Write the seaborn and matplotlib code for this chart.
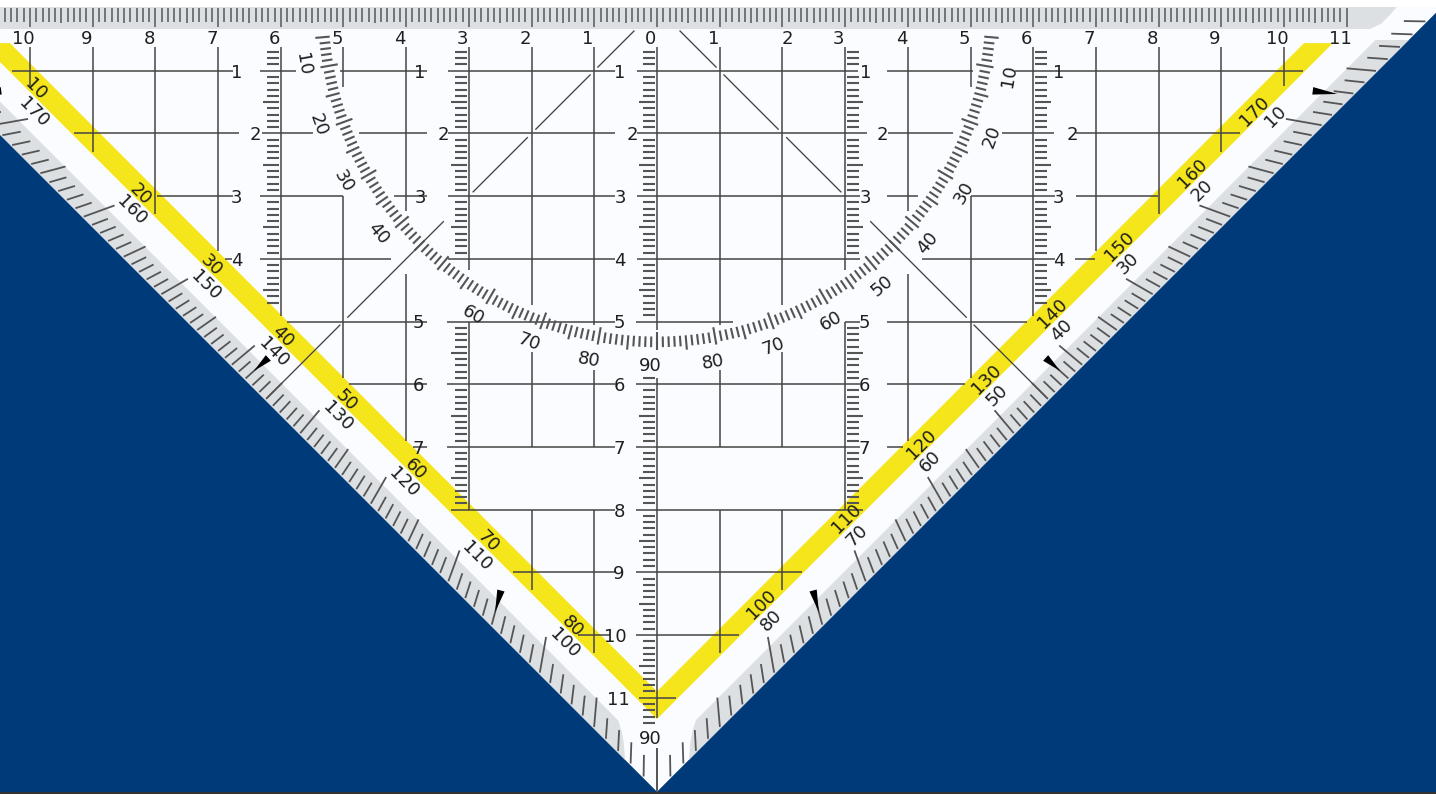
import numpy as np
import pandas as pd
import matplotlib
matplotlib.use("Agg")
import matplotlib.pyplot as plt
import seaborn as sns

sns.set_theme(style="white")
plt.rcParams["font.family"] = "DejaVu Sans"

# everything is in cm on the set square, origin at the middle of the long edge
top_labels = [10, 9, 8, 7, 6, 5, 4, 3, 2, 1, 0, 1, 2, 3, 4, 5, 6, 7, 8, 9, 10, 11]
top_label_cm = list(range(-10, 12))

row_numbers = [1, 2, 3, 4, 5, 6, 7, 8, 9, 10, 11]
row_label_cm = [
    [-6.70, -3.78, -0.59, 3.33, 6.41],
    [-6.41, -3.41, -0.40, 3.60, 6.62],
    [-6.70, -3.78, -0.59, 3.33, 6.41],
    [-6.70, -0.59, 6.41],
    [-3.80, -0.60, 3.31],
    [-3.80, -0.60, 3.31],
    [-3.80, -0.60, 3.31],
    [-0.60],
    [-0.61],
    [-0.67],
    [-0.62],
]

# pieces of each horizontal line (x from, x to)
row_spans = [
    [(-10.29, -6.76), (-6.33, -5.76), (-5.06, -3.67), (-3.33, -0.67), (-0.32, 3.21), (3.67, 5.04), (5.71, 10.30)],
    [(-9.30, -6.67), (-6.30, -5.49), (-4.75, -3.67), (-3.33, -0.67), (-0.32, 3.35), (3.68, 4.72), (5.50, 6.33), (6.68, 9.30)],
    [(-7.97, -6.76), (-6.33, -5.01), (-4.19, -3.67), (-3.33, -0.67), (-0.32, 3.24), (3.67, 4.16), (5.01, 6.35), (6.68, 7.99)],
    [(-6.89, -6.78), (-6.33, -4.24), (-3.33, -0.67), (-0.32, 3.24), (4.23, 6.35), (6.67, 6.99)],
    [(-5.90, -3.67), (-3.35, -0.67), (-0.33, 1.21), (3.00, 3.24), (3.67, 5.90)],
    [(-4.91, -3.67), (-3.35, -0.67), (-0.33, 3.24), (3.67, 4.91)],
    [(-3.89, -3.67), (-3.35, -0.67), (-0.33, 3.24), (3.67, 3.92)],
    [(-3.29, -0.67), (-0.33, 3.29)],
    [(-2.30, -0.67), (-0.33, 2.31)],
    [(-1.26, -0.75), (-0.33, 1.31)],
    [(-0.29, 0.30)],
]

# pieces of each vertical line (y from, y to), the same left and right of 0
column_numbers = [0, 1, 2, 3, 4, 5, 6, 7, 8, 9, 10]
column_spans = [
    [(0.62, 5.14), (5.90, 11.32), (11.80, 12.50)],
    [(0.62, 5.06), (5.77, 7.00), (8.00, 10.29)],
    [(0.62, 4.74), (5.49, 7.00), (8.00, 9.28)],
    [(0.62, 4.18), (5.00, 8.00)],
    [(0.62, 3.24), (4.24, 6.90)],
    [(0.62, 1.26), (3.00, 5.90)],
    [(0.62, 4.92)],
    [(0.62, 3.88)],
    [(0.62, 3.29)],
    [(0.62, 2.30)],
    [(0.62, 1.25)],
]

diagonal_spans = [(0.36, 0.95), (1.06, 1.94), (2.06, 2.94), (3.40, 4.94), (5.05, 6.22)]

# mm ruler columns: column cm, first and last mm of each run
ruler_columns = [-6, -3, 0, 3, 6]
ruler_runs = [
    [(7, 47)],
    [(7, 39), (51, 79)],
    [(7, 50), (59, 114)],
    [(7, 39), (51, 79)],
    [(7, 47)],
]

arc_labels_right = [10, 20, 30, 40, 50, 60, 70, 80]
arc_labels_left = [10, 20, 30, 40, 60, 70, 80]
edge_labels_right = [10, 20, 30, 40, 50, 60, 70, 80]
edge_labels_left = [170, 160, 150, 140, 130, 120, 110, 100]
band_labels_left = [10, 20, 30, 40, 50, 60, 70, 80]
band_labels_right = [170, 160, 150, 140, 130, 120, 110, 100]
pointer_angles = [7.2, 42, 75]

# small nudges in degrees so the numbers sit where the printed ones do
edge_nudge_right = [-0.15, -1.6, -1.6, -1.4, -1.3, -1.0, -0.7, -0.5]
edge_nudge_left = [-0.6, 1.0, 1.5, 1.9, 2.0, 2.0, 1.9, 1.8]
band_nudge_left = [-2.65, -0.3, -0.1, 1.2, 1.7, 2.4, 2.5, 2.3]
band_nudge_right = [-0.3, -2.9, -2.8, -2.4, -1.6, -1.2, -0.3, 0.2]

NAVY = "#003A78"
PLASTIC = "#FAFCFF"
GREY = "#DCE0E3"
YELLOW = "#F5E61C"
INK = "#1f1f1f"
LINE = "#454545"
TICK = "#555555"

CM = 62.7
TIP = 12.5  # |x| + y along the outer edge
FONT = 13


def draw_segments(ax, segs, color, lw):
    rows = []
    for i, (x0, y0, x1, y1) in enumerate(segs):
        rows.append((i, x0, y0))
        rows.append((i, x1, y1))
    df = pd.DataFrame(rows, columns=["seg", "x", "y"])
    sns.lineplot(data=df, x="x", y="y", units="seg", estimator=None, sort=False,
                 color=color, linewidth=lw, solid_capstyle="butt", legend=False, ax=ax)


def on_edge(angle, d, side):
    # point on the ray at this angle where |x| + y = d
    a = np.radians(angle)
    r = d / (np.cos(a) + np.sin(a))
    return side * r * np.cos(a), r * np.sin(a)


def on_arc(angle, r, side):
    a = np.radians(angle)
    return side * r * np.cos(a), r * np.sin(a)


fig = plt.figure(figsize=(14.36, 7.94), dpi=100, facecolor="white")
ax = fig.add_axes([0, 0, 1, 1])
ax.set_facecolor(NAVY)

# body of the set square
y_top = -0.016
ax.fill([-(TIP - y_top), TIP - y_top, 0], [y_top, y_top, TIP], color=PLASTIC, lw=0, zorder=1)
ax.axhspan(-0.2, y_top, color="white", lw=0, zorder=1)
ax.axhspan(12.5, 12.6, color="#333333", lw=0, zorder=1.2)

# grey strip along the long edge
ax.fill([-11, 11.80, 11.68, 11.55, 11.37, -11], [y_top, y_top, 0.12, 0.25, 0.335, 0.335],
        color=GREY, lw=0, zorder=1.1)

# grey strips along the short edges, yellow band inside them
for side in [-1, 1]:
    ax.fill([side * v for v in [11.46, 11.99, 0.51, 0.53, 0.56, 0.62]],
            [0.51, 0.51, 11.99, 11.72, 11.55, 11.36],
            color=GREY, lw=0, zorder=1.1)
    ax.fill([side * v for v in [10.32, 10.78, 0, 0]], [0.56, 0.56, 11.34, 10.90],
            color=YELLOW, lw=0, zorder=1.3)

# grid
grid = []
for row, spans in zip(row_numbers, row_spans):
    for x0, x1 in spans:
        grid.append((x0, row, x1, row))
for col, spans in zip(column_numbers, column_spans):
    for y0, y1 in spans:
        grid.append((col, y0, col, y1))
        if col != 0:
            grid.append((-col, y0, -col, y1))
draw_segments(ax, grid, LINE, 1.1)

diagonals = []
for x0, x1 in diagonal_spans:
    diagonals.append((x0, x0, x1, x1))
    diagonals.append((-x0, x0, -x1, x1))
draw_segments(ax, diagonals, LINE, 0.95)

# mm along the long edge
top_ticks = []
for mm in range(-105, 111):
    if mm % 10 == 0:
        end = 0.30
    elif mm % 5 == 0:
        end = 0.245
    else:
        end = 0.22
    top_ticks.append((mm / 10, 0.0, mm / 10, end))
draw_segments(ax, top_ticks, "#606366", 1.2)

# mm rulers hanging from the long edge
ruler_ticks = []
for col, runs in zip(ruler_columns, ruler_runs):
    side = 1 if col > 0 else -1
    for first, last in runs:
        for mm in range(first, last + 1):
            if mm % 10 == 0:
                continue
            far = 0.29 if mm % 5 == 0 else 0.22
            ruler_ticks.append((col + side * 0.035, mm / 10, col + side * far, mm / 10))
draw_segments(ax, ruler_ticks, TICK, 1.5)

# protractor arc
arc_ticks = []
for deg in range(5, 91):
    for side in [-1, 1]:
        if deg == 90 and side == -1:
            continue
        if deg % 10 == 0:
            r0, r1 = 5.17, 5.45
        elif deg % 5 == 0:
            r0, r1 = 5.24, 5.47
        else:
            r0, r1 = 5.24, 5.41
        x0, y0 = on_arc(deg, r0, side)
        x1, y1 = on_arc(deg, r1, side)
        arc_ticks.append((x0, y0, x1, y1))
draw_segments(ax, arc_ticks, TICK, 1.5)

# angle scale on the short edges
edge_ticks = []
for deg in range(1, 91):
    for side in [-1, 1]:
        if deg == 90 and side == -1:
            continue
        if deg % 10 == 0:
            d0 = 11.80
        elif deg % 5 == 0:
            d0 = 11.96
        else:
            d0 = 12.12
        x0, y0 = on_edge(deg, d0, side)
        x1, y1 = on_edge(deg, 12.47, side)
        edge_ticks.append((x0, y0, x1, y1))
draw_segments(ax, edge_ticks, TICK, 1.3)

# black pointers
for deg in pointer_angles:
    for side in [-1, 1]:
        tx, ty = on_edge(deg, 12.22, side)
        bx, by = on_edge(deg, 11.78, side)
        a = np.radians(deg)
        nx, ny = -np.sin(a) * side * 0.06, np.cos(a) * 0.06
        ax.fill([tx, bx + nx, bx - nx], [ty, by + ny, by - ny], color="black", lw=0, zorder=2.5)


def label(x, y, s, rot=0):
    ax.text(x, y, str(s), fontsize=FONT, color=INK, rotation=rot, rotation_mode="anchor",
            ha="center", va="center_baseline", zorder=3)


# cm numbers
for s, x in zip(top_labels, top_label_cm):
    nudge = 0.08 if x == 2 else -0.10
    label(x + nudge, 0.46, s)
for row, xs in zip(row_numbers, row_label_cm):
    for x in xs:
        label(x, row, row)
label(-0.10, 11.63, 90)
label(-0.10, 5.68, 90)

# numbers along the arc
for deg in arc_labels_right:
    x, y = on_arc(deg + 1, 5.68, 1)
    label(x, y, deg, 90 - deg)
for deg in arc_labels_left:
    x, y = on_arc(deg - 1, 5.68, -1)
    label(x, y, deg, deg - 90)

# numbers along the edge scale and in the yellow band
for deg, nudge in zip(edge_labels_right, edge_nudge_right):
    x, y = on_edge(deg + nudge, 11.55, 1)
    label(x, y, deg, 45)
for deg, nudge in zip(edge_labels_left, edge_nudge_left):
    x, y = on_edge(180 - deg + nudge, 11.57, -1)
    label(x, y, deg, -45)
for deg, nudge in zip(band_labels_left, band_nudge_left):
    x, y = on_edge(deg + nudge, 11.17, -1)
    label(x, y, deg, -45)
for deg, nudge in zip(band_labels_right, band_nudge_right):
    x, y = on_edge(180 - deg + nudge, 11.13, 1)
    label(x, y, deg, 45)

ax.set_xlim(-657 / CM, 779 / CM)
ax.set_ylim(786 / CM, -8 / CM)
ax.set_xlabel("")
ax.set_ylabel("")
ax.set_xticks([])
ax.set_yticks([])
sns.despine(ax=ax, left=True, bottom=True)

fig.savefig("out.png", dpi=100)
